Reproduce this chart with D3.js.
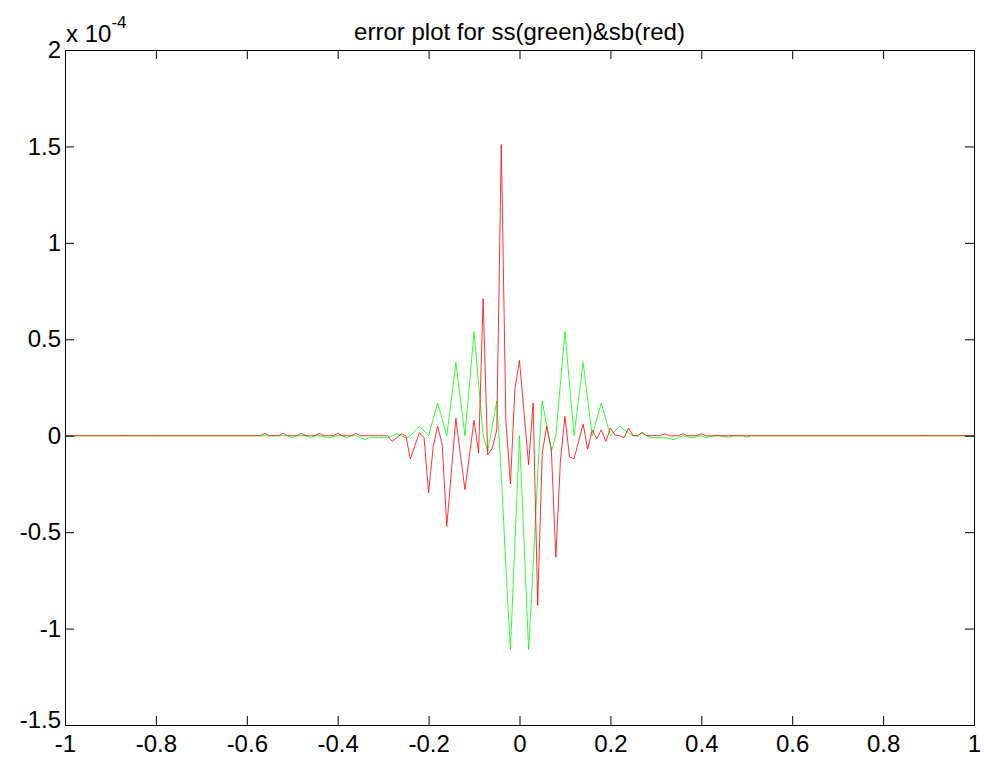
<!DOCTYPE html>
<html>
<head>
<meta charset="utf-8">
<script src="https://cdn.jsdelivr.net/npm/d3@7/dist/d3.min.js"></script>
<style>
  body { margin: 0; background: #ffffff; }
  svg { display: block; }
  .tick text { font-family: "Liberation Sans", Arial, sans-serif; fill: #000; }
</style>
</head>
<body>
<svg id="chart" width="984" height="763"></svg>
<script>
// Sample grid: x from -1 to 1 in steps of 0.01 (201 samples)
const sampleX = d3.range(-100, 101).map(k => k / 100);

// Error of ss (green), in units of 1e-4, one value per sample (x = -1 ... 1)
const ssError = [
  0, 0, 0, 0, 0, 0, 0, 0, 0, 0,                         // -1.00 .. -0.91
  0, 0, 0, 0, 0, 0, 0, 0, 0, 0,                         // -0.90 .. -0.81
  0, 0, 0, 0, 0, 0, 0, 0, 0, 0,                         // -0.80 .. -0.71
  0, 0, 0, 0, 0, 0, 0, 0, 0, 0,                         // -0.70 .. -0.61
  0, 0, 0, 0, 0, 0, 0, 0, 0, 0,                         // -0.60 .. -0.51
  -0.01, 0, 0, 0, -0.01, 0, 0, -0.005, -0.01, -0.005,   // -0.50 .. -0.41
  0, 0, -0.01, 0, 0, -0.01, -0.02, -0.01, -0.01, -0.01, // -0.40 .. -0.31
  -0.01, -0.01, 0, 0.01, 0, -0.01, 0, 0.025, 0.05, 0.025, // -0.30 .. -0.21
  0, 0.085, 0.17, 0.085, 0, 0.19, 0.38, 0.19, 0, 0.27,  // -0.20 .. -0.11
  0.54, 0.27, 0, -0.08, 0.05, 0.18, -0.2, -0.68, -1.11, -0.55, // -0.10 .. -0.01
  0, -0.55, -1.11, -0.68, -0.2, 0.18, 0.05, -0.08, 0, 0.27,    //  0.00 ..  0.09
  0.54, 0.27, 0, 0.19, 0.38, 0.19, 0, 0.085, 0.17, 0.085, //  0.10 ..  0.19
  0, 0.025, 0.05, 0.03, 0.015, 0, 0, 0.015, 0, -0.01,   //  0.20 ..  0.29
  -0.01, -0.01, -0.01, -0.015, -0.02, -0.01, 0, -0.005, -0.01, -0.005, // 0.30 .. 0.39
  0, -0.01, -0.005, 0, 0, -0.005, -0.007, 0, 0, 0,      //  0.40 ..  0.49
  -0.007, 0, 0, 0, 0, 0, 0, 0, 0, 0,                    //  0.50 ..  0.59
  0, 0, 0, 0, 0, 0, 0, 0, 0, 0,                         //  0.60 ..  0.69
  0, 0, 0, 0, 0, 0, 0, 0, 0, 0,                         //  0.70 ..  0.79
  0, 0, 0, 0, 0, 0, 0, 0, 0, 0,                         //  0.80 ..  0.89
  0, 0, 0, 0, 0, 0, 0, 0, 0, 0,                         //  0.90 ..  0.99
  0                                                     //  1.00
];

// Error of sb (red), in units of 1e-4
const sbError = [
  0, 0, 0, 0, 0, 0, 0, 0, 0, 0,                         // -1.00 .. -0.91
  0, 0, 0, 0, 0, 0, 0, 0, 0, 0,                         // -0.90 .. -0.81
  0, 0, 0, 0, 0, 0, 0, 0, 0, 0,                         // -0.80 .. -0.71
  0, 0, 0, 0, 0, 0, 0, 0, 0, 0,                         // -0.70 .. -0.61
  0, 0, 0, 0, 0.012, 0, 0, 0, 0.012, 0,                 // -0.60 .. -0.51
  0, 0, 0.012, 0, 0, 0, 0.012, 0, 0, 0,                 // -0.50 .. -0.41
  0.012, 0, 0, 0, 0.012, 0, 0, 0, 0, 0,                 // -0.40 .. -0.31
  0, 0, -0.03, -0.01, 0.01, 0, -0.12, -0.05, 0.016, -0.01, // -0.30 .. -0.21
  -0.295, -0.06, 0.05, -0.05, -0.47, -0.19, 0.09, -0.1, -0.28, -0.1, // -0.20 .. -0.11
  0.08, -0.09, 0.71, -0.1, -0.065, 0.03, 1.51, 0.08, -0.25, 0.245,  // -0.10 .. -0.01
  0.39, 0.12, -0.15, 0.17, -0.88, -0.09, 0.05, -0.07, -0.63, -0.13, //  0.00 ..  0.09
  0.10, -0.11, -0.12, -0.03, 0.06, -0.07, 0.03, -0.015, 0.03, -0.03, //  0.10 ..  0.19
  0.04, 0.004, 0, -0.01, 0.04, 0, 0, 0.017, 0, 0,      //  0.20 ..  0.29
  0, 0, 0.01, 0, 0, 0, 0.01, 0, 0, 0,                   //  0.30 ..  0.39
  0.01, 0, 0, 0, 0, 0, 0, 0, 0, 0,                      //  0.40 ..  0.49
  0, 0, 0, 0, 0, 0, 0, 0, 0, 0,                         //  0.50 ..  0.59
  0, 0, 0, 0, 0, 0, 0, 0, 0, 0,                         //  0.60 ..  0.69
  0, 0, 0, 0, 0, 0, 0, 0, 0, 0,                         //  0.70 ..  0.79
  0, 0, 0, 0, 0, 0, 0, 0, 0, 0,                         //  0.80 ..  0.89
  0, 0, 0, 0, 0, 0, 0, 0, 0, 0,                         //  0.90 ..  0.99
  0                                                     //  1.00
];

// Axis ticks
const xTicks = [-1, -0.8, -0.6, -0.4, -0.2, 0, 0.2, 0.4, 0.6, 0.8, 1];
const xTickLabels = ["-1", "-0.8", "-0.6", "-0.4", "-0.2", "0", "0.2", "0.4", "0.6", "0.8", "1"];
const yTicks = [-1.5, -1, -0.5, 0, 0.5, 1, 1.5, 2];
const yTickLabels = ["-1.5", "-1", "-0.5", "0", "0.5", "1", "1.5", "2"];

const titleText = "error plot for ss(green)&sb(red)";

const svg = d3.select("#chart");
const W = 984, H = 763;
const box = { left: 65, right: 974, top: 50, bottom: 725 };

svg.append("rect").attr("width", W).attr("height", H).attr("fill", "#fff");

const x = d3.scaleLinear().domain([-1, 1]).range([box.left, box.right]);
const y = d3.scaleLinear().domain([-1.5, 2]).range([box.bottom, box.top]);

const fontSize = 24;
const tickLen = 9;

// Series
const line = d3.line()
  .x((d, i) => x(sampleX[i]))
  .y(d => y(d));

svg.append("path")
  .datum(ssError)
  .attr("fill", "none")
  .attr("stroke", "#00ff00")
  .attr("stroke-width", 0.8)
  .attr("d", line);

svg.append("path")
  .datum(sbError)
  .attr("fill", "none")
  .attr("stroke", "#ff0000")
  .attr("stroke-width", 0.8)
  .attr("d", line);

// Axes with inward ticks on all four sides
function styleAxis(g) {
  g.select(".domain").remove();
  g.selectAll(".tick line").attr("stroke", "#000").attr("stroke-width", 1);
  g.selectAll(".tick text").attr("font-size", fontSize);
}

const xLabel = d => xTickLabels[xTicks.indexOf(d)];
const yLabel = d => yTickLabels[yTicks.indexOf(d)];

svg.append("g")
  .attr("transform", `translate(0,${box.bottom})`)
  .call(d3.axisBottom(x).tickValues(xTicks).tickFormat(xLabel).tickSize(-tickLen).tickPadding(10))
  .call(styleAxis);

svg.append("g")
  .attr("transform", `translate(0,${box.top})`)
  .call(d3.axisTop(x).tickValues(xTicks).tickFormat("").tickSize(-tickLen))
  .call(styleAxis);

const yAxisG = svg.append("g")
  .attr("transform", `translate(${box.left},0)`)
  .call(d3.axisLeft(y).tickValues(yTicks).tickFormat(yLabel).tickSize(-tickLen).tickPadding(4))
  .call(styleAxis);
// lowest label sits just above the corner so it clears the x labels
yAxisG.selectAll(".tick text").filter(d => d === -1.5).attr("dy", "0.1em");

svg.append("g")
  .attr("transform", `translate(${box.right},0)`)
  .call(d3.axisRight(y).tickValues(yTicks).tickFormat("").tickSize(-tickLen))
  .call(styleAxis);

// Plot box
svg.append("rect")
  .attr("x", box.left + 0.5).attr("y", box.top + 0.5)
  .attr("width", box.right - box.left).attr("height", box.bottom - box.top)
  .attr("fill", "none").attr("stroke", "#000").attr("stroke-width", 1);

// Exponent label
const expo = svg.append("text")
  .attr("x", box.left + 1).attr("y", 42)
  .attr("font-family", "Liberation Sans, Arial, sans-serif")
  .attr("font-size", fontSize);
expo.append("tspan").text("x 10");
expo.append("tspan").attr("font-size", 17).attr("dy", -14).text("-4");

// Title
svg.append("text")
  .attr("x", (box.left + box.right) / 2).attr("y", 40)
  .attr("text-anchor", "middle")
  .attr("font-family", "Liberation Sans, Arial, sans-serif")
  .attr("font-size", 24)
  .text(titleText);
</script>
</body>
</html>
